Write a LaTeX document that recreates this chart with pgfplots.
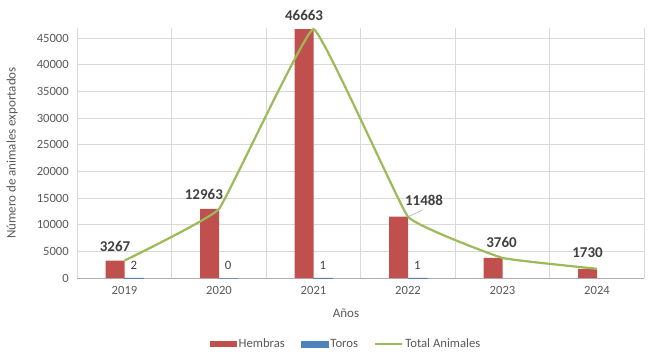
\documentclass[border=0pt]{standalone}
\usepackage{pgfplots}
\pgfplotsset{compat=1.18}
\usepackage{fontspec}
\setmainfont{Carlito}
\definecolor{hred}{HTML}{C0504D}
\definecolor{tblue}{HTML}{4F81BD}
\definecolor{tgreen}{HTML}{9BBB59}
\definecolor{txt}{HTML}{595959}
\definecolor{lbl}{HTML}{404040}
\definecolor{grd}{HTML}{D9D9D9}
\begin{document}
\begin{tikzpicture}[x=1bp,y=1bp]
\useasboundingbox (0,0) rectangle (654,354);
\begin{axis}[
  at={(77.25bp,76bp)}, anchor=south west,
  scale only axis, width=567bp, height=250bp,
  clip=false,
  xmin=-0.5, xmax=5.5, ymin=0, ymax=46875,
  xtick={0,...,5}, xticklabels={2019,2020,2021,2022,2023,2024},
  minor xtick={-0.5,0.5,...,5.5},
  ytick={0,5000,...,45000},
  major tick length=0pt, minor tick length=0pt,
  xminorgrids=true, ymajorgrids=true,
  grid style={draw=grd, line width=0.8bp},
  minor grid style={draw=grd, line width=0.8bp},
  axis x line*=bottom, axis y line*=left,
  x axis line style={draw=grd!80!black, line width=0.8bp, -},
  y axis line style={draw=grd, line width=0.8bp, -},
  /pgf/number format/assume math mode=true,
  /pgf/number format/1000 sep={},
  scaled y ticks=false,
  tick label style={font=\fontsize{12.6bp}{14bp}\selectfont, text=txt},
  yticklabel style={xshift=-5bp},
  xticklabel style={yshift=-5bp},
  xlabel={Años},
  ylabel={Número de animales exportados},
  label style={font=\fontsize{13bp}{15bp}\selectfont, text=txt},
  xlabel style={at={(axis description cs:0.474,-0.14)}, anchor=center},
  ylabel style={at={(axis description cs:-0.115,0.5)}, anchor=center},
  legend style={at={(0.474,-0.264)}, anchor=center, draw=none,
    font=\fontsize{12.7bp}{14bp}\selectfont, text=txt,
    legend columns=-1, /tikz/every even column/.append style={column sep=14bp}},
  legend cell align=left,
]
\addplot[ybar, bar width=19bp, bar shift=-9.5bp, fill=hred, draw=none,
  legend image code/.code={\fill[hred] (0bp,-3bp) rectangle (27bp,3bp);}]
  coordinates {(0,3265) (1,12963) (2,46662) (3,11487) (4,3760) (5,1730)};
\addlegendentry{Hembras}
\addplot[ybar, bar width=19bp, bar shift=9.5bp, fill=tblue, draw=tblue!60!gray, line width=0.6bp,
  legend image code/.code={\fill[tblue] (0bp,-3bp) rectangle (27bp,3bp);}]
  coordinates {(0,2) (1,0) (2,1) (3,1)};
\addlegendentry{Toros}
\addplot[tgreen, line width=2.2bp, smooth, tension=0.15, mark=none,
  legend image code/.code={\draw[tgreen, line width=2.2bp] (0bp,0bp) -- (27bp,0bp);}]
  coordinates {(0,3267) (1,12963) (2,46663) (3,11488) (4,3760) (5,1730)};
\addlegendentry{Total Animales}
% value labels
\begin{scope}[every node/.style={font=\bfseries\fontsize{15bp}{17bp}\selectfont, text=lbl, anchor=center}]
\node at (axis cs:-0.10,6000) {3267};
\node at (axis cs:0.84,15750) {12963};
\node at (axis cs:1.90,49310) {46663};
\node at (axis cs:3.17,14625) {11488};
\node at (axis cs:3.99,6750) {3760};
\node at (axis cs:4.90,4690) {1730};
\end{scope}
\draw[gray!70, line width=0.5bp] (axis cs:3,11488) -- (axis cs:3.16,12800);
\begin{scope}[every node/.style={font=\fontsize{12.7bp}{14bp}\selectfont, text=lbl, anchor=center}]
\node at (axis cs:0.10,2440) {2};
\node at (axis cs:1.095,2440) {0};
\node at (axis cs:2.10,2440) {1};
\node at (axis cs:3.10,2440) {1};
\end{scope}
\end{axis}
\end{tikzpicture}
\end{document}
